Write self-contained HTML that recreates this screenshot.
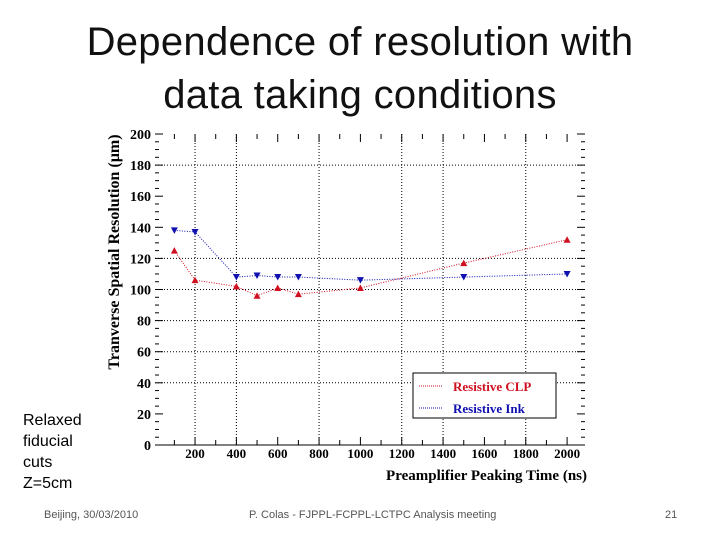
<!DOCTYPE html>
<html><head><meta charset="utf-8"><style>
body{margin:0;background:#fff;width:720px;height:540px;overflow:hidden;position:relative;font-family:"Liberation Sans",sans-serif}
.title{position:absolute;left:0;width:720px;text-align:center;top:16px;font-size:40px;line-height:53px;color:#111;letter-spacing:0.3px}
.side{position:absolute;left:23px;top:410px;font-size:16px;line-height:21px}
.foot{position:absolute;top:509px;font-size:11px;color:#555}
</style></head><body>
<div class="title">Dependence of resolution with<br>data taking conditions</div>
<div class="side">Relaxed<br>fiducial<br>cuts<br>Z=5cm</div>
<div class="foot" style="left:44px">Beijing, 30/03/2010</div>
<div class="foot" style="left:249px">P. Colas - FJPPL-FCPPL-LCTPC Analysis meeting</div>
<div class="foot" style="left:665px">21</div>
<svg id="c" width="720" height="540" style="position:absolute;left:0;top:0"></svg>
<script>
const xVals=[100,200,400,500,600,700,1000,1500,2000];
const clp=[125,106,102,96,101,97,101,117,132];
const ink=[138,137,108,109,108,108,106,108,110];
const yTicks=[0,20,40,60,80,100,120,140,160,180,200];
const xTicks=[200,400,600,800,1000,1200,1400,1600,1800,2000];
const gridX=[200,400,800,1200,1400,1800];
const gridY=[40,60,80,100,120,180];
const X=v=>153.7+v*0.2067, Y=v=>445-v*1.555;
const svg=document.getElementById('c'),NS='http://www.w3.org/2000/svg';
function el(t,a,p){const e=document.createElementNS(NS,t);for(const k in a)e.setAttribute(k,a[k]);(p||svg).appendChild(e);return e;}
const L=155,R=585;
gridX.forEach(v=>{const e=el('line',{x1:X(v),x2:X(v),y1:Y(200),y2:Y(0),stroke:'#000','stroke-dasharray':'1 2','stroke-width':1});
});
gridY.forEach(v=>{const e=el('line',{x1:L,x2:R,y1:Y(v),y2:Y(v),stroke:'#000','stroke-dasharray':'1 2','stroke-width':1});
});
const ax=el('line',{x1:L,x2:R,y1:Y(0),y2:Y(0),stroke:'#000','stroke-width':1});

for(let v=0;v<=200;v+=5){const len=v%20===0?8:4;
el('line',{x1:L,x2:L+len,y1:Y(v),y2:Y(v),stroke:'#000'});el('line',{x1:R-len,x2:R,y1:Y(v),y2:Y(v),stroke:'#000'});}
for(let v=100;v<=2000;v+=100){const len=v%200===0?8:5;
el('line',{x1:X(v),x2:X(v),y1:Y(0),y2:Y(0)-len,stroke:'#000'});el('line',{x1:X(v),x2:X(v),y1:Y(200),y2:Y(200)+len,stroke:'#000'});}
yTicks.forEach(v=>{const t=el('text',{x:151,y:Y(v)+5,'text-anchor':'end','font-family':'Liberation Serif,serif','font-weight':'bold','font-size':14});t.textContent=v;
});
xTicks.forEach(v=>{const t=el('text',{x:X(v),y:458,'text-anchor':'middle','font-family':'Liberation Serif,serif','font-weight':'bold','font-size':13});t.textContent=v;
});
const xt=el('text',{x:587,y:480,'text-anchor':'end','font-family':'Liberation Serif,serif','font-weight':'bold','font-size':15});xt.textContent='Preamplifier Peaking Time (ns)';

const yt=el('text',{x:0,y:0,transform:'translate(119,252) rotate(-90)','text-anchor':'middle','font-family':'Liberation Serif,serif','font-weight':'bold','font-size':16});yt.textContent='Tranverse Spatial Resolution (\u00b5m)';

function series(vals,col,up,name){
 const pts=xVals.map((x,i)=>X(x)+','+Y(vals[i])).join(' ');
 const pl=el('polyline',{points:pts,fill:'none',stroke:col,'stroke-dasharray':'1 1.5','stroke-width':1});
 
 xVals.forEach((x,i)=>{const cx=X(x),cy=Y(vals[i]);
  const p=up?`${cx-3.5},${cy+3} ${cx+3.5},${cy+3} ${cx},${cy-3.5}`:`${cx-3.5},${cy-3} ${cx+3.5},${cy-3} ${cx},${cy+3.5}`;
  const m=el('polygon',{points:p,fill:col});
  });
}
series(ink,'#1010b0',false,'ink');
series(clp,'#d01020',true,'clp');
const lg=el('g',{});
el('rect',{x:413,y:373,width:143,height:45,fill:'#fff',stroke:'#000'},lg);
el('line',{x1:419,x2:443,y1:386,y2:386,stroke:'#d01020','stroke-dasharray':'1 1'},lg);
el('line',{x1:419,x2:443,y1:408,y2:408,stroke:'#1010b0','stroke-dasharray':'1 1'},lg);
const t1=el('text',{x:453,y:391,'font-family':'Liberation Serif,serif','font-weight':'bold','font-size':13,fill:'#d01020'},lg);t1.textContent='Resistive CLP';

const t2=el('text',{x:453,y:413,'font-family':'Liberation Serif,serif','font-weight':'bold','font-size':13,fill:'#1010b0'},lg);t2.textContent='Resistive Ink';

</script>
</body></html>
